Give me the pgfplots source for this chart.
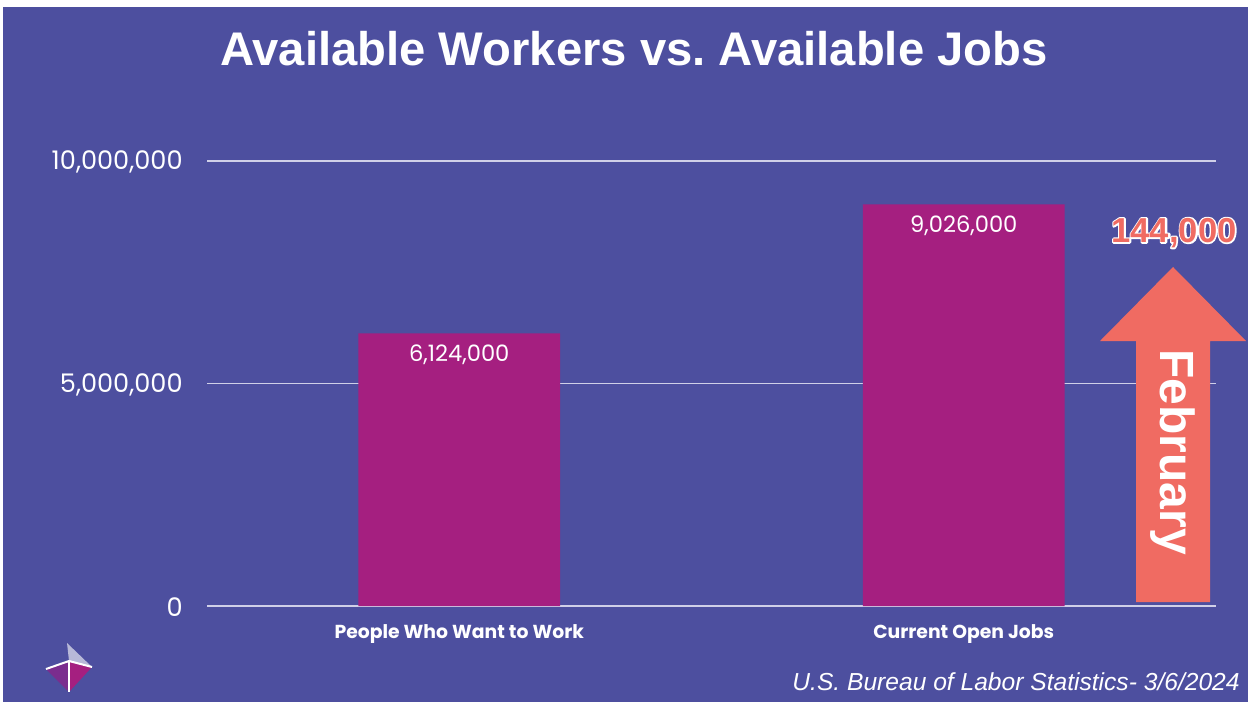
\documentclass[border=0pt]{standalone}
\usepackage{fontspec}
\usepackage{pgfplots}
\pgfplotsset{compat=1.18}
\setmainfont{Liberation Sans}
\newfontfamily\numfont{Poppins}
\newfontfamily\titlefont{Liberation Sans}
\definecolor{bg}{HTML}{4D4F9F}
\definecolor{barc}{HTML}{A51F80}
\definecolor{arrowc}{HTML}{F06B62}
\definecolor{gridc}{HTML}{D0D0E8}
\definecolor{logodark}{HTML}{7B2D8E}
\begin{document}
\begin{tikzpicture}[x=0.5pt,y=-0.5pt]
\useasboundingbox (0,0) rectangle (1252,706);
\fill[white] (0,0) rectangle (1252,706);
\fill[bg] (3,7) rectangle (1248,702);
\node[font=\titlefont\bfseries\fontsize{23.6}{27}\selectfont, text=white] at (634,49) {Available Workers vs.\ Available Jobs};
\begin{axis}[
  at={(103.5pt,-303pt)}, anchor=south west,
  scale only axis, width=504.5pt, height=222.5pt,
  xmin=-0.5, xmax=1.5, ymin=0, ymax=10000000,
  ybar, bar width=0.4, bar shift=0pt,
  xtick={0,1}, xticklabels={People Who Want to Work, Current Open Jobs},
  ytick={0,5000000,10000000},
  scaled y ticks=false,
  yticklabel style={/pgf/number format/fixed, /pgf/number format/precision=0, /pgf/number format/1000 sep={,}, /pgf/number format/assume math mode=true},
  yticklabel style={font=\numfont\fontsize{12.8}{14}\selectfont, text=white, anchor=east, inner sep=0pt, xshift=-12pt, yshift=-0.5pt},
  xticklabel style={font=\numfont\bfseries\fontsize{9.4}{11}\selectfont, text=white, anchor=north, inner sep=0pt, yshift=-9pt},
  axis line style={draw=none},
  major tick length=0pt,
  ymajorgrids, major grid style={gridc, line width=0.6pt},
  clip=false,
  nodes near coords={\pgfplotspointmeta},
  point meta=explicit symbolic,
  nodes near coords style={font=\numfont\fontsize{11.3}{13}\selectfont, text=white, anchor=north, inner sep=0pt, yshift=-5.5pt},
]
\addplot[fill=barc, draw=none] coordinates {(0,6124000) [6,124,000] (1,9026000) [9,026,000]};
\end{axis}
% arrow decoration
\fill[arrowc] (1136,602) -- (1136,341) -- (1100,341) -- (1173,267) -- (1246,341) -- (1210,341) -- (1210,602) -- cycle;
\node[rotate=-90, font=\bfseries\fontsize{24}{28}\selectfont, text=white] at (1173,452) {February};
\node[font=\bfseries\fontsize{17.3}{19}\selectfont] at (1174,233) {\rlap{\textcolor{white}{\special{pdf:literal direct 1 1 1 RG 1.5 w 1 j 2 Tr}144,000\special{pdf:literal direct 0 Tr}}}\textcolor{arrowc}{144,000}};
% source
\node[anchor=east, font=\itshape\fontsize{12.3}{14}\selectfont, text=white, inner sep=0pt] at (1240,682) {U.S. Bureau of Labor Statistics- 3/6/2024};
% logo
\fill[white!60!bg] (67,643) -- (92,667) -- (69,661) -- cycle;
\fill[logodark] (46,669) -- (69,661) -- (69,692) -- cycle;
\fill[barc] (69,661) -- (92,667) -- (69,692) -- cycle;
\draw[white, line width=1pt] (46,669) -- (69,661) -- (92,667);
\draw[white, line width=1.2pt] (69,661) -- (69,692);
\end{tikzpicture}
\end{document}
